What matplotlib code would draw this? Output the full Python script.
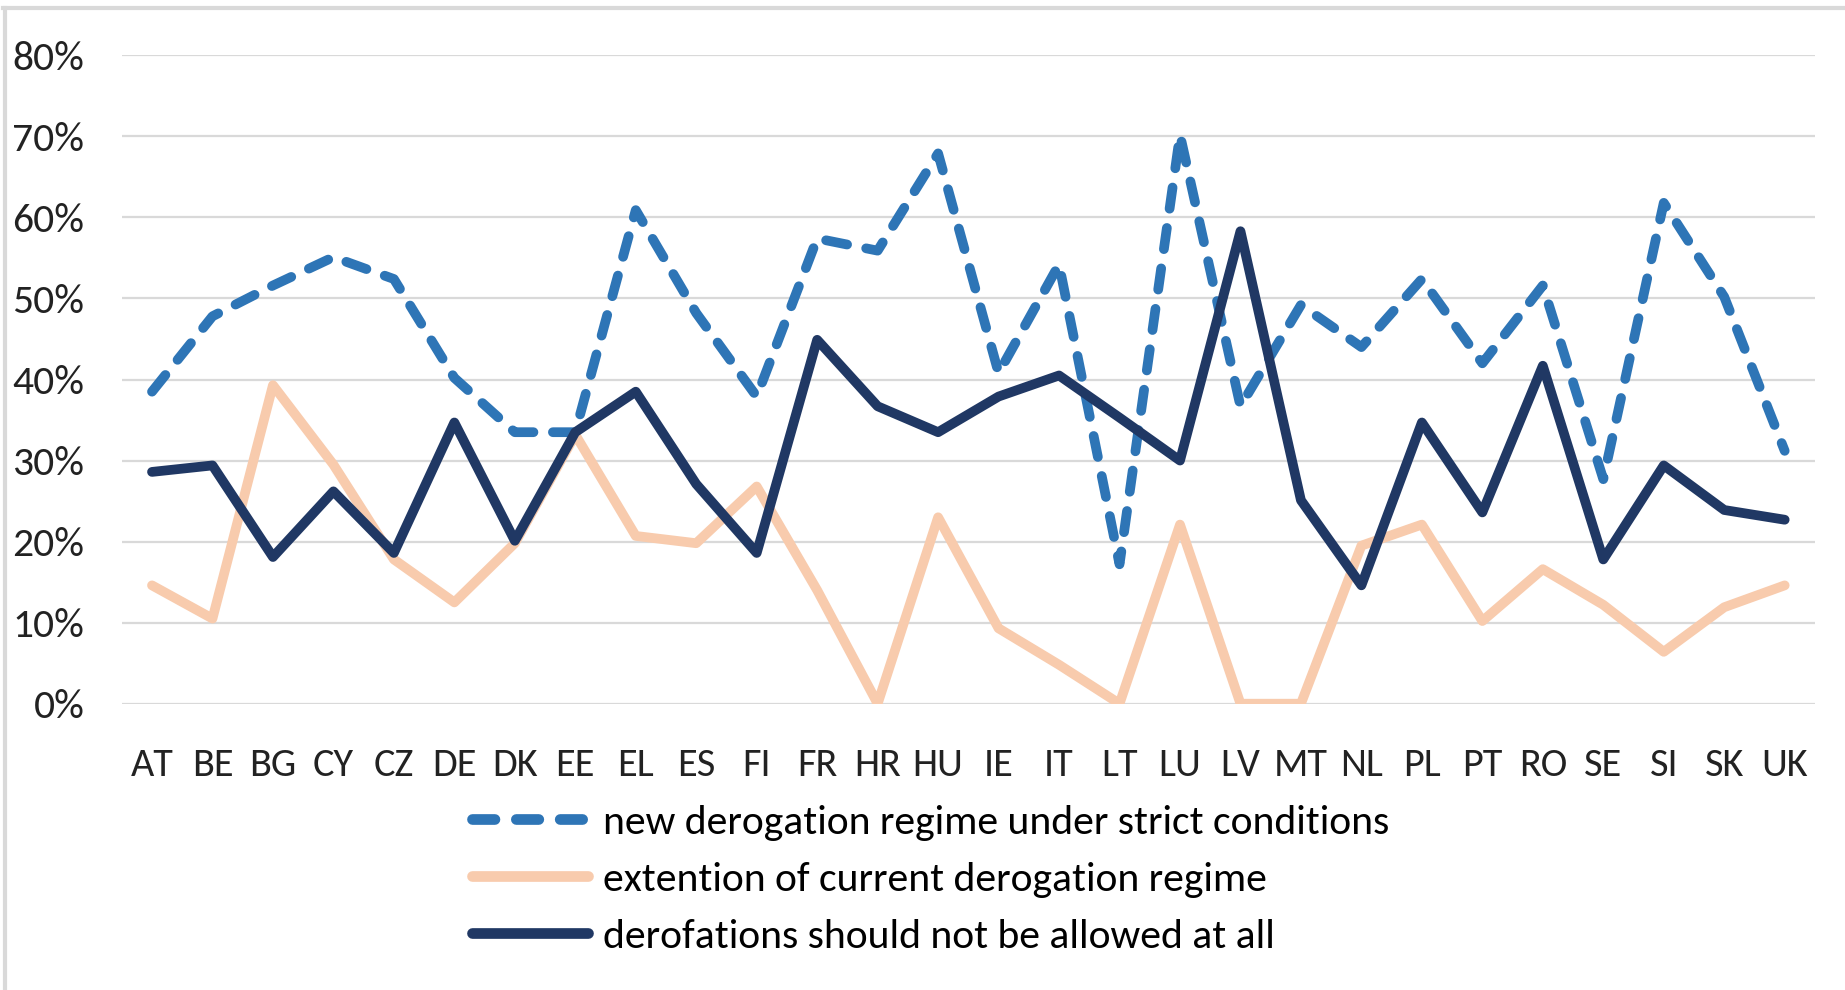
import matplotlib
matplotlib.use("Agg")
import matplotlib.pyplot as plt
from matplotlib.lines import Line2D
from matplotlib.ticker import PercentFormatter

plt.rcParams['font.family'] = ['Carlito', 'Lato', 'DejaVu Sans']

countries = ["AT", "BE", "BG", "CY", "CZ", "DE", "DK", "EE", "EL", "ES", "FI", "FR", "HR", "HU",
             "IE", "IT", "LT", "LU", "LV", "MT", "NL", "PL", "PT", "RO", "SE", "SI", "SK", "UK"]
new_regime = [38.5, 47.8, 51.6, 55.1, 52.4, 40.2, 33.5, 33.5, 60.9, 48.2, 37.9, 57.4, 55.9, 67.9,
              40.8, 54.2, 17.2, 70.2, 36.7, 49.2, 44.0, 52.4, 42.0, 51.6, 27.7, 61.8, 50.2, 31.2]
extension = [14.6, 10.5, 39.3, 29.5, 17.8, 12.5, 19.8, 33.2, 20.7, 19.8, 26.8, 14.0, 0.0, 23.0,
             9.3, 4.8, 0.0, 22.1, 0.0, 0.0, 19.5, 22.1, 10.2, 16.6, 12.2, 6.4, 11.9, 14.6]
not_at_all = [28.6, 29.4, 18.1, 26.2, 18.6, 34.7, 20.1, 33.5, 38.5, 27.1, 18.6, 44.9, 36.7, 33.5,
              37.9, 40.5, 35.3, 30.0, 58.3, 25.1, 14.6, 34.7, 23.6, 41.7, 17.8, 29.4, 23.9, 22.7]
labels = ["new derogation regime under strict conditions",
          "extention of current derogation regime",
          "derofations should not be allowed at all"]

blue = "#2E75B6"
peach = "#F8CBAD"
navy = "#203864"
lw = 7

fig = plt.figure(figsize=(18.45, 9.9), dpi=100)
ax = fig.add_axes([0.066, 0.2892, 0.9177, 0.6549])

x = list(range(len(countries)))
ax.plot(x, [v / 100 for v in extension], color=peach, lw=lw,
        solid_joinstyle="round", solid_capstyle="round")
ax.plot(x, [v / 100 for v in new_regime], color=blue, lw=lw, dashes=(2.2, 2.0),
        dash_capstyle="round", dash_joinstyle="round")
ax.plot(x, [v / 100 for v in not_at_all], color=navy, lw=lw,
        solid_joinstyle="round", solid_capstyle="round")

ax.set_xlim(-0.5, len(countries) - 0.5)
ax.set_ylim(0, 0.8)
ax.set_yticks([i / 10 for i in range(9)])
ax.yaxis.set_major_formatter(PercentFormatter(1.0, decimals=0))
ax.set_xticks(x)
ax.set_xticklabels(countries)
ax.tick_params(axis="y", length=0, pad=27, labelsize=30, labelcolor="#222222")
ax.tick_params(axis="x", length=0, pad=31, labelsize=29, labelcolor="#222222")
ax.grid(axis="y", color="#d9d9d9", lw=1.6, zorder=0)
ax.set_axisbelow(True)
for s in ax.spines.values():
    s.set_visible(False)

handles = [
    Line2D([], [], color=blue, lw=7.7, dashes=(2.1, 2.0), dash_capstyle="round"),
    Line2D([], [], color=peach, lw=7.7, solid_capstyle="round"),
    Line2D([], [], color=navy, lw=7.7, solid_capstyle="round"),
]
fig.legend(handles, labels, loc="upper left", bbox_to_anchor=(0.2558, 0.187),
           frameon=False, fontsize=30, handlelength=2.78, handletextpad=0.36,
           labelspacing=0.5, borderpad=0, borderaxespad=0)

# light frame of the chart area (top and left edge visible)
fig.add_artist(Line2D([0.0027, 0.0027], [0, 0.992], color="#d9d9d9", lw=3,
                      transform=fig.transFigure))
fig.add_artist(Line2D([0.0016, 1], [0.992, 0.992], color="#d9d9d9", lw=3,
                      transform=fig.transFigure))

fig.savefig("out.png", dpi=100, facecolor="white")
